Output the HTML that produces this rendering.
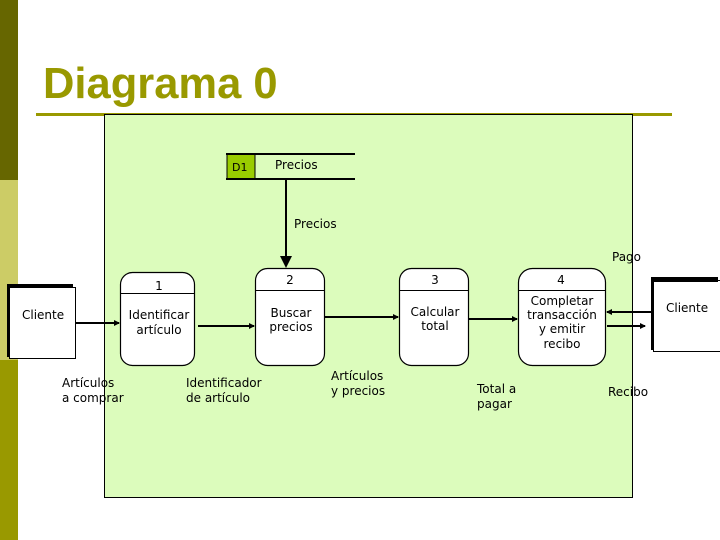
<!DOCTYPE html>
<html><head><meta charset="utf-8"><style>
html,body{margin:0;padding:0;width:720px;height:540px;overflow:hidden;background:#fff}
svg text{font-family:"DejaVu Sans","Liberation Sans",sans-serif;font-size:12px;fill:#000}
</style></head><body>
<svg width="720" height="540" viewBox="0 0 720 540" xmlns="http://www.w3.org/2000/svg">
<defs><marker id="a" markerWidth="6" markerHeight="6" refX="5" refY="3" orient="auto" markerUnits="userSpaceOnUse"><path d="M0,0 L6,3 L0,6 z" fill="#000"/></marker></defs>
<rect x="0" y="0" width="18" height="180" fill="#666600"/>
<rect x="0" y="180" width="18" height="180" fill="#cccc66"/>
<rect x="0" y="360" width="18" height="180" fill="#999900"/>
<text x="43" y="98" style="font-family:'Liberation Sans',sans-serif;font-weight:bold;font-size:43.5px;fill:#999900">Diagrama 0</text>
<rect x="36" y="113" width="636" height="3" fill="#999900"/>
<rect x="104.5" y="114.5" width="528" height="383" fill="#dcfcbc" stroke="#000"/>
<!-- data store -->
<rect x="227" y="154" width="28" height="25" fill="#99cc00" stroke="#000"/>
<line x1="226" y1="154" x2="355" y2="154" stroke="#000" stroke-width="2"/>
<line x1="226" y1="179" x2="355" y2="179" stroke="#000" stroke-width="2"/>
<text x="232" y="171" style="font-size:11px">D1</text>
<text x="275" y="169">Precios</text>
<line x1="286" y1="180" x2="286" y2="262" stroke="#000" stroke-width="2"/>
<path d="M280,256 L286,268 L292,256 z" fill="#000"/>
<text x="294" y="228">Precios</text>
<text x="612" y="261">Pago</text>
<!-- processes -->
<g fill="#fff" stroke="#000" stroke-width="1.2">
<rect x="120.5" y="272.5" width="74" height="93" rx="12"/>
<rect x="255.5" y="268.5" width="69" height="97" rx="12"/>
<rect x="399.5" y="268.5" width="69" height="97" rx="12"/>
<rect x="518.5" y="268.5" width="87" height="97" rx="14"/>
</g>
<g stroke="#000">
<line x1="120" y1="293.5" x2="195" y2="293.5"/>
<line x1="255" y1="290.5" x2="325" y2="290.5"/>
<line x1="399" y1="290.5" x2="469" y2="290.5"/>
<line x1="518" y1="290.5" x2="606" y2="290.5"/>
</g>
<g text-anchor="middle">
<text x="159" y="290">1</text>
<text x="159" y="319">Identificar</text><text x="159" y="334">artículo</text>
<text x="290" y="284">2</text>
<text x="291" y="317">Buscar</text><text x="291" y="331">precios</text>
<text x="435" y="284">3</text>
<text x="435" y="316">Calcular</text><text x="435" y="330">total</text>
<text x="561" y="284">4</text>
<text x="562" y="305">Completar</text><text x="562" y="319">transacción</text><text x="562" y="333">y emitir</text><text x="562" y="348">recibo</text>
</g>
<!-- external entities -->
<rect x="9.5" y="287.5" width="66" height="71" fill="#fff" stroke="#000"/>
<rect x="7" y="284" width="66" height="4" fill="#000"/>
<rect x="7" y="284" width="3" height="73" fill="#000"/>
<text x="22" y="319">Cliente</text>
<rect x="653.5" y="280.5" width="70" height="71" fill="#fff" stroke="#000"/>
<rect x="651" y="277" width="67" height="5" fill="#000"/>
<rect x="651" y="277" width="3" height="73" fill="#000"/>
<text x="666" y="312">Cliente</text>
<!-- flows -->
<g stroke="#000" stroke-width="2" marker-end="url(#a)">
<line x1="76" y1="323" x2="119" y2="323"/>
<line x1="198" y1="326" x2="254" y2="326"/>
<line x1="325" y1="317" x2="398" y2="317"/>
<line x1="469" y1="319" x2="517" y2="319"/>
<line x1="651" y1="312" x2="607" y2="312"/>
<line x1="607" y1="326" x2="645" y2="326"/>
</g>
<text x="62" y="387">Artículos</text><text x="62" y="402">a comprar</text>
<text x="186" y="387">Identificador</text><text x="186" y="402">de artículo</text>
<text x="331" y="380">Artículos</text><text x="331" y="395">y precios</text>
<text x="477" y="393">Total a</text><text x="477" y="408">pagar</text>
<text x="608" y="396">Recibo</text>
</svg>
</body></html>
